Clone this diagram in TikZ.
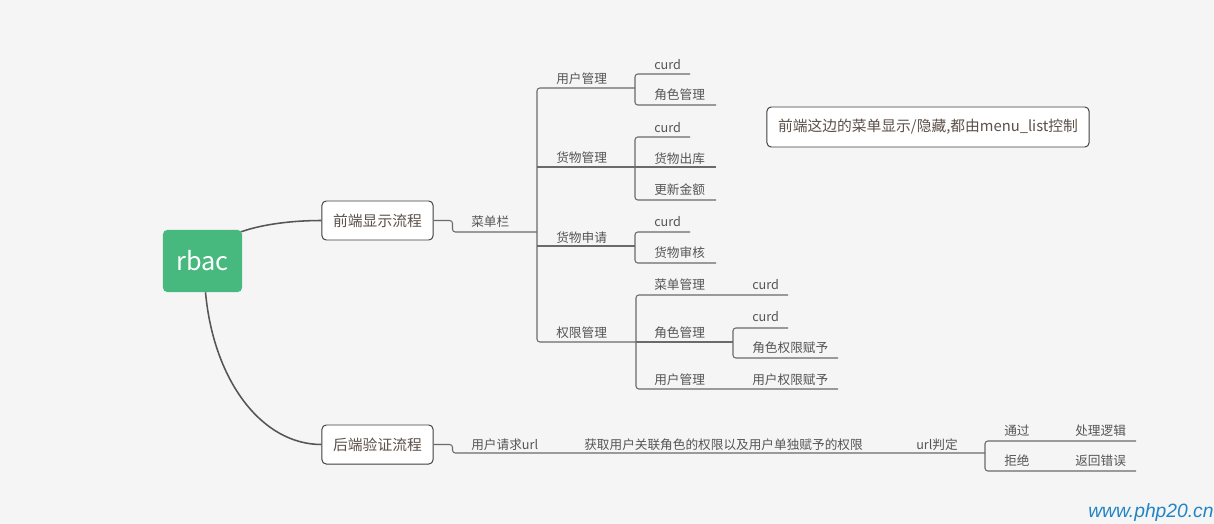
\documentclass[tikz,border=0pt]{standalone}
\usepackage{fontspec}
\setmainfont{Noto Sans CJK SC}
\newfontfamily\wmfont{Liberation Sans}
\usetikzlibrary{positioning,calc}
\definecolor{bggray}{HTML}{F5F5F5}
\definecolor{rbacgreen}{HTML}{47B97E}
\definecolor{boxtext}{HTML}{5C5048}
\definecolor{lbltext}{HTML}{555555}
\definecolor{mainline}{HTML}{555555}
\definecolor{brline}{HTML}{6A6A6A}
\definecolor{wmblue}{HTML}{2185C5}
\tikzset{
  topicbox/.style={draw=black!75, fill=white, rounded corners=3pt, line width=0.7pt,
    minimum width=2.775cm, minimum height=0.975cm, inner sep=0pt,
    text=boxtext, font=\fontsize{10.5}{12}\selectfont},
  lbl/.style={anchor=west, inner sep=0pt, text=lbltext, font=\fontsize{9}{10}\selectfont},
  mainlink/.style={draw=mainline, line width=1.1pt},
  brlink/.style={draw=brline, line width=0.75pt, rounded corners=2pt},
}

\begin{document}
\begin{tikzpicture}[x=0.025cm,y=-0.025cm]
\fill[bggray] (0,0) rectangle (1214,524);
\useasboundingbox (0,0) rectangle (1214,524);
\clip (0,0) rectangle (1214,524);

% root and the two flows
\node[fill=rbacgreen, rounded corners=3pt, minimum width=1.975cm, minimum height=1.55cm,
  text=white, font=\fontsize{18}{20}\selectfont] (root) at (202.5,261) {rbac};
\node[topicbox] (fe) at (377.5,220.5) {前端显示流程};
\node[topicbox] (be) at (377.5,444.5) {后端验证流程};
\draw[mainlink] ($(root.north east)+(-1,2)$) .. controls +(23,-8) and +(-27,0) .. (fe.west);
\draw[mainlink] ($(root.south)+(3,0)$) .. controls +(8,88) and +(-60,0) .. (be.west);

% front side: menu bar
\coordinate (mb) at (537,232);
\draw[brlink] (fe.east) -- ++(19,0) |- (mb);
\node[lbl] (menubar) at (471,222) {菜单栏};

\coordinate (s-um) at (635,88);
\coordinate (s-gm) at (635,167);
\coordinate (s-ga) at (635,246);
\coordinate (s-pm) at (636,342);
\draw[brlink] (s-um) -| (mb) |- (s-pm);
\draw[brlink] (mb |- s-gm) -- (s-gm);
\draw[brlink] (mb |- s-ga) -- (s-ga);
\node[lbl] (um) at (556,79) {用户管理};
\node[lbl] (gm) at (556,158) {货物管理};
\node[lbl] (ga) at (556,238) {货物申请};
\node[lbl] (pm) at (556,333) {权限管理};

% 用户管理
\coordinate (um-c) at (690,74);
\coordinate (um-r) at (716,105);
\draw[brlink] (um-c) -| (s-um) |- (um-r);
\node[lbl] (um-curd) at (654,65) {curd};
\node[lbl] (um-role) at (654,95) {角色管理};

% 货物管理
\coordinate (gm-c) at (690,137);
\coordinate (gm-o) at (716,167);
\coordinate (gm-a) at (716,200);
\draw[brlink] (gm-c) -| (s-gm) |- (gm-a);
\draw[brlink] (s-gm) -- (gm-o);
\node[lbl] (gm-curd) at (654,128) {curd};
\node[lbl] (gm-out) at (654,159) {货物出库};
\node[lbl] (gm-amt) at (654,190) {更新金额};

% 货物申请
\coordinate (ga-c) at (690,232);
\coordinate (ga-r) at (716,263);
\draw[brlink] (ga-c) -| (s-ga) |- (ga-r);
\node[lbl] (ga-curd) at (654,222) {curd};
\node[lbl] (ga-audit) at (654,253) {货物审核};

% 权限管理
\coordinate (pm-m) at (788,295);
\coordinate (pm-u) at (838,389);
\coordinate (s-pr) at (733,342);
\draw[brlink] (pm-m) -| (s-pm) |- (pm-u);
\draw[brlink] (s-pm) -- (s-pr);
\coordinate (pr-c) at (788,328);
\coordinate (pr-g) at (838,358);
\draw[brlink] (pr-c) -| (s-pr) |- (pr-g);
\node[lbl] (pm-menu) at (654,285) {菜单管理};
\node[lbl] (pm-menu-curd) at (752,285) {curd};
\node[lbl] (pm-role) at (654,333) {角色管理};
\node[lbl] (pm-role-curd) at (752,317) {curd};
\node[lbl] (pm-role-grant) at (752,348) {角色权限赋予};
\node[lbl] (pm-user) at (654,380) {用户管理};
\node[lbl] (pm-user-grant) at (752,380) {用户权限赋予};

% note
\node[draw=black!75, fill=white, rounded corners=3pt, line width=0.7pt, minimum width=8.05cm,
  minimum height=1cm, text=boxtext, font=\fontsize{10.5}{12}\selectfont] (note) at (928,127)
  {前端这边的菜单显示/隐藏,都由menu\_list控制};

% back side
\coordinate (s-jd) at (985,453);
\draw[brlink] (be.east) -- ++(19,0) |- (s-jd);
\node[lbl] (req) at (471,445) {用户请求url};
\node[lbl] (fetch) at (584,445) {获取用户关联角色的权限以及用户单独赋予的权限};
\node[lbl] (judge) at (916,445) {url判定};
\coordinate (jd-p) at (1136,441);
\coordinate (jd-d) at (1136,471);
\draw[brlink] (jd-p) -| (s-jd) |- (jd-d);
\node[lbl] (pass) at (1004,431) {通过};
\node[lbl] (deal) at (1075,431) {处理逻辑};
\node[lbl] (deny) at (1004,461) {拒绝};
\node[lbl] (err) at (1075,461) {返回错误};

\node[anchor=west, inner sep=0pt, text=wmblue, font=\wmfont\itshape\fontsize{13.7}{15}\selectfont]
  (wm) at (1088,513) {www.php20.cn};
\end{tikzpicture}
\end{document}
